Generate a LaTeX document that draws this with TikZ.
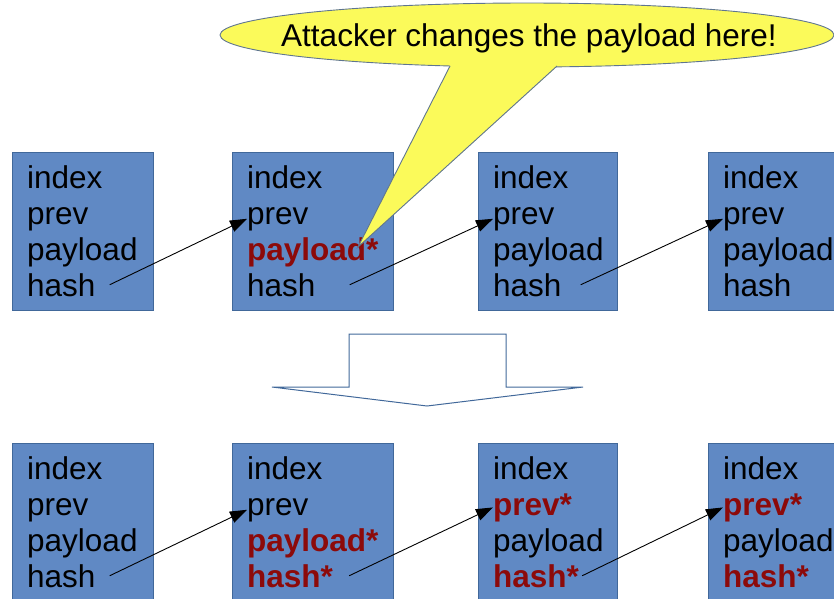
\documentclass[tikz,border=0pt]{standalone}
\usepackage{fontspec}
\setmainfont{Liberation Sans}
\usetikzlibrary{positioning,arrows.meta}

\definecolor{blockblue}{HTML}{6089C4}
\definecolor{blockline}{HTML}{41689A}
\definecolor{changed}{HTML}{8C0A0A}
\definecolor{bubble}{HTML}{FBFA5A}
\definecolor{bubbleline}{HTML}{5F7590}

\tikzset{
  blk/.style={draw=blockline, fill=blockblue, line width=.8pt, minimum height=158pt,
    anchor=north west, inner sep=0pt},
  fld/.style={anchor=base west, inner sep=0pt, font=\fontsize{31.5}{36}\selectfont},
  hot/.style={fld, text=changed, font=\fontsize{31.5}{36}\selectfont\bfseries,
    execute at end node={\textcolor{changed}{*}}},
  link/.style={-{Triangle[length=17pt,width=12pt]}, line width=.9pt},
  hollow/.style={draw=blockline, line width=1pt, line join=miter},
}

\begin{document}
\begin{tikzpicture}[x=1pt,y=-1pt]
    \useasboundingbox (0,0) rectangle (834,598);
    \clip (0,0) rectangle (834,598);

    % the chain before and after
    \foreach \bx/\x/\y/\w in {a1/12/152/141, a2/232/152/161, a3/478/152/139, a4/708/152/150,
                              b1/12/443/141, b2/232/443/161, b3/478/443/139, b4/708/443/150}
      \node[blk, minimum width=\w pt] (\bx) at (\x,\y) {};

    \foreach \bx/\sv/\sp/\sh in {a1/fld/fld/fld, a2/fld/hot/fld, a3/fld/fld/fld, a4/fld/fld/fld,
                                 b1/fld/fld/fld, b2/fld/hot/hot, b3/hot/fld/hot, b4/hot/fld/hot} {
      \node[fld] (\bx i) at ([shift={(15pt,-36pt)}]\bx.north west) {index};
      \node[\sv] (\bx v) at ([yshift=-36pt]\bx i.base west) {prev};
      \node[\sp] (\bx p) at ([yshift=-36pt]\bx v.base west) {payload};
      \node[\sh] (\bx h) at ([yshift=-36pt]\bx p.base west) {hash};
    }

    \draw[link] ([xshift=14pt]a1h.east) -- (a2v.west);
    \draw[link] ([xshift=34pt]a2h.east) -- (a3v.west);
    \draw[link] ([xshift=19pt]a3h.east) -- (a4v.west);

    \draw[link] ([xshift=14pt]b1h.east) -- (b2v.west);
    \draw[link] ([xshift=16pt]b2h.east) -- (b3v.west);
    \draw[link] ([xshift=3pt]b3h.east) -- (b4v.west);

    % big down arrow
    \draw[hollow] (349,387) -- (349,334) -- (506,334) -- (506,387) -- (583,387)
      -- (427,406) -- (272,387) -- cycle;

    % callout
    \coordinate (tip) at (358,247);
    \filldraw[fill=bubble, draw=bubbleline, line width=.9pt] (527,35) ellipse (307 and 32);
    \fill[bubble] (458,50) -- (tip) -- (575,50) -- cycle;
    \draw[bubbleline, line width=.9pt] (450,66) -- (tip) -- (557,66);
    \node[anchor=base, inner sep=0pt, font=\fontsize{31.5}{36}\selectfont] (msg) at (529,46)
      {Attacker changes the payload here!};
\end{tikzpicture}
\end{document}
